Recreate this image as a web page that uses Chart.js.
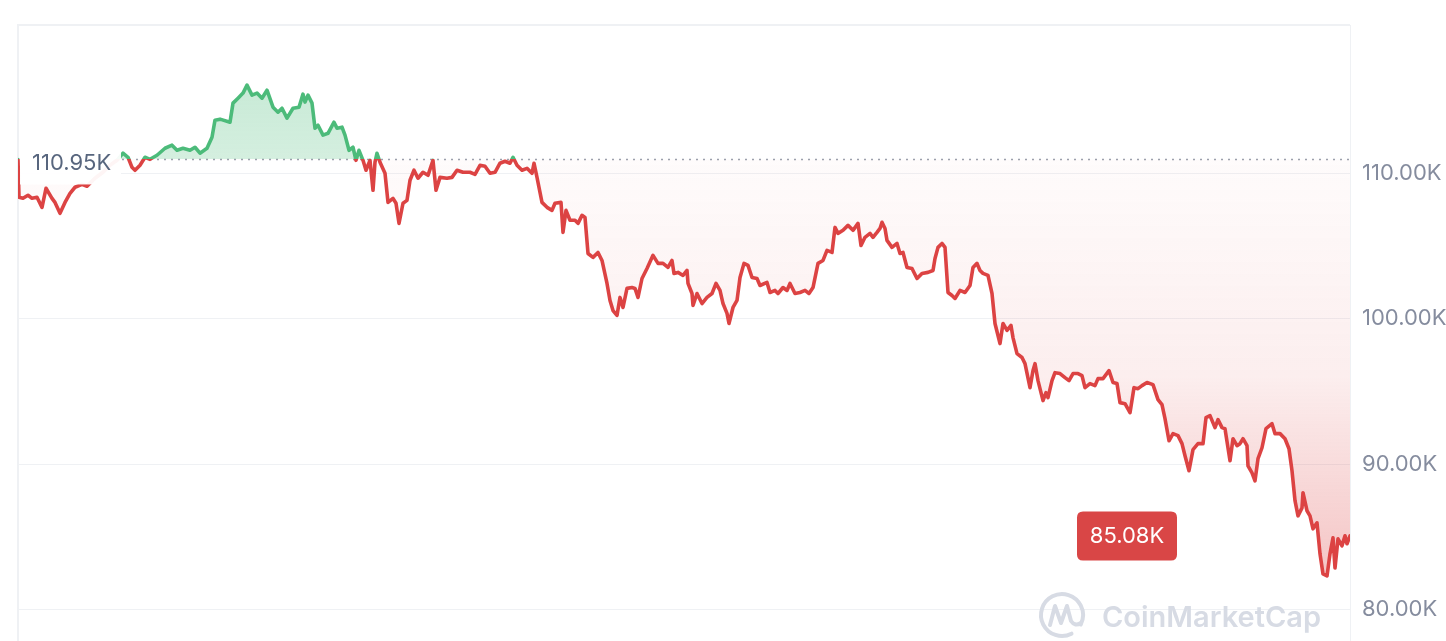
<!DOCTYPE html>
<html>
<head>
<meta charset="utf-8">
<script src="https://cdn.jsdelivr.net/npm/chart.js@4.4.1/dist/chart.umd.min.js"></script>
<style>
    html, body { margin: 0; padding: 0; background: #ffffff; }
    #wrap { width: 1446px; height: 641px; }
</style>
</head>
<body>
<div id="wrap"><canvas id="price-chart" width="1446" height="641"></canvas></div>
<script>
// hours since the start of the window
const hours = [
    0, 0.5, 2.5, 5, 7, 9.5, 12, 14, 17, 18.5,
    21, 23.5, 26, 28.5, 32, 34.5, 38.5, 42.5, 46, 49.5,
    52.5, 55, 57, 58.5, 61, 63.5, 66, 69.5, 73.5, 77,
    79.5, 82.5, 86, 88.5, 91, 94.5, 97, 98.5, 101, 106,
    107.5, 110, 112.5, 114.5, 117, 119.5, 122, 124.5, 127.5, 130,
    132, 134.5, 137.5, 140.5, 142.5, 143.5, 145, 147, 148.5, 150,
    152.5, 155, 158, 159.5, 162, 163.5, 165.5, 167.5, 169, 170.5,
    172.5, 174, 176, 177.5, 178.5, 179.5, 181, 183.5, 185, 187.5,
    189, 190.5, 192.5, 194.5, 196, 198, 200, 202.5, 205, 207.5,
    209, 211, 214.5, 217, 219.5, 222.5, 226, 228.5, 231, 233.5,
    236, 238.5, 241, 243.5, 246, 247.5, 249.5, 252, 254.5, 257,
    258, 259.5, 262, 264.5, 267, 268.5, 271.5, 272.5, 274, 276,
    278.5, 280, 282, 283.5, 285, 287.5, 290, 292, 294.5, 296,
    297.5, 299.5, 301, 302.5, 304.5, 307, 308.5, 310, 312, 314.5,
    317.5, 320, 322.5, 325, 327, 328, 330, 332.5, 334.5, 335,
    337, 337.5, 339.5, 342, 344.5, 347, 349, 351, 352.5, 354.5,
    355.5, 357.5, 359.5, 361, 363, 365, 367, 369.5, 371, 374.5,
    376, 378.5, 380, 382.5, 384.5, 386, 388.5, 391, 393.5, 395.5,
    397.5, 400, 402.5, 404.5, 407, 408.5, 410, 412.5, 415, 417.5,
    420, 421.5, 423.5, 426, 427.5, 429.5, 431, 432, 433.5, 434.5,
    437, 439.5, 441, 442.5, 444.5, 447, 449.5, 452, 455, 457.5,
    458.5, 460, 462, 463.5, 465, 467, 468.5, 471, 473.5, 476,
    477.5, 479.5, 481, 482.5, 485, 487, 488.5, 491, 492.5, 494.5,
    496.5, 497.5, 499.5, 502, 503.5, 506, 507.5, 508.5, 510, 512.5,
    514, 515, 517, 518.5, 521, 523.5, 525.5, 527.5, 530, 532,
    533.5, 536, 538.5, 540, 542.5, 545.5, 547.5, 549.5, 551, 553.5,
    556, 558, 560, 562, 564.5, 567.5, 570, 572, 573.5, 575.5,
    577.5, 580, 582, 583.5, 585.5, 587.5, 590, 592.5, 594, 596,
    598.5, 600, 602, 603.5, 606, 607.5, 609.5, 611, 612.5, 614.5,
    615, 617, 618.5, 620, 622, 624, 627, 628.5, 631, 633.5,
    635.5, 637, 638.5, 640, 642, 642.5, 644.5, 646, 647.5, 649.5,
    651, 652.5, 654.5, 656, 657.5, 658.5, 660, 662, 663.5, 664.5,
    666
];

// price in thousands of USD
const prices = [
    110.95, 108.35, 108.28, 108.49, 108.28, 108.35, 107.66, 108.97, 108.28, 108.00,
    107.25, 108.00, 108.62, 109.04, 109.24, 109.11, 109.66, 110.07, 110.55, 110.89,
    111.38, 111.10, 110.41, 110.21, 110.55, 111.10, 110.96, 111.24, 111.72, 111.93,
    111.58, 111.72, 111.58, 111.79, 111.38, 111.72, 112.48, 113.65, 113.72, 113.51,
    114.82, 115.16, 115.51, 116.06, 115.37, 115.51, 115.16, 115.71, 114.54, 114.20,
    114.47, 113.79, 114.47, 114.54, 115.44, 114.89, 115.37, 114.82, 113.10, 113.30,
    112.62, 112.75, 113.51, 113.10, 113.17, 112.62, 111.58, 111.79, 110.89, 111.58,
    110.89, 110.21, 110.89, 108.83, 110.76, 111.38, 110.76, 110.00, 108.00, 108.28,
    107.94, 106.56, 107.94, 108.14, 109.52, 110.21, 109.66, 110.07, 109.86, 110.89,
    108.83, 109.72, 109.66, 109.72, 110.21, 110.07, 110.07, 109.93, 110.55, 110.48,
    110.00, 110.07, 110.69, 110.83, 110.69, 111.10, 110.55, 110.21, 110.34, 110.00,
    110.69, 109.72, 108.00, 107.66, 107.45, 107.94, 108.00, 105.94, 107.45, 106.77,
    106.77, 106.56, 107.11, 106.97, 104.49, 104.22, 104.56, 104.01, 102.43, 101.26,
    100.57, 100.23, 101.47, 100.78, 102.09, 102.15, 102.09, 101.47, 102.77, 103.46,
    104.36, 103.81, 103.81, 103.53, 104.01, 103.12, 103.19, 102.98, 103.32, 102.43,
    101.74, 100.92, 101.74, 101.05, 101.47, 101.74, 102.43, 101.95, 101.05, 100.37,
    99.68, 100.78, 101.26, 102.84, 103.81, 103.67, 102.84, 102.77, 102.29, 102.50,
    101.81, 101.95, 101.74, 102.15, 101.95, 102.43, 101.74, 101.81, 101.95, 101.74,
    102.15, 103.81, 104.01, 104.70, 104.56, 106.28, 105.87, 106.08, 106.42, 106.08,
    106.56, 105.04, 105.60, 105.87, 105.60, 105.94, 106.21, 106.63, 106.21, 105.39,
    104.91, 105.18, 104.49, 104.56, 103.53, 103.46, 102.77, 103.12, 103.19, 103.32,
    104.15, 104.91, 105.18, 104.91, 101.81, 101.60, 101.40, 101.95, 101.81, 102.29,
    103.53, 103.81, 103.32, 103.12, 102.98, 101.74, 99.68, 98.30, 99.68, 99.20,
    99.54, 98.71, 97.61, 97.34, 96.92, 95.27, 96.44, 96.92, 95.75, 94.38,
    94.93, 94.58, 95.75, 96.30, 96.24, 95.96, 95.75, 96.24, 96.24, 96.10,
    95.27, 95.55, 95.41, 95.89, 95.89, 96.44, 95.62, 95.55, 94.24, 94.17,
    93.55, 95.27, 95.20, 95.41, 95.62, 95.48, 94.45, 94.10, 93.14, 91.62,
    92.11, 91.97, 91.42, 90.59, 89.56, 91.01, 91.42, 91.42, 93.21, 93.35,
    92.52, 93.07, 92.52, 92.45, 90.25, 91.76, 91.28, 91.42, 91.76, 91.28,
    89.90, 89.42, 88.87, 90.39, 91.14, 92.45, 92.79, 92.11, 92.11, 91.76,
    91.07, 89.56, 87.50, 86.46, 87.01, 88.05, 86.81, 86.46, 85.57, 85.98,
    83.85, 82.47, 82.33, 83.85, 84.95, 82.88, 84.88, 84.40, 85.09, 84.54,
    85.08
];

const refPrice = 110.95;
const yTicks = [80, 90, 100, 110];
const yMin = 77.86;
const yMax = 120.19;
const hourMax = 666;

const UP = '#4cbb7a';
const DOWN = '#dc4343';

function fmtK(v) {
    return v.toFixed(2) + 'K';
}

function baseFraction(chart) {
    const a = chart.chartArea;
    const py = chart.scales.y.getPixelForValue(refPrice);
    return Math.min(1, Math.max(0, (py - a.top) / (a.bottom - a.top)));
}

function lineGradient(context) {
    const chart = context.chart;
    if (!chart.chartArea) return DOWN;
    const a = chart.chartArea;
    const f = baseFraction(chart);
    const g = chart.ctx.createLinearGradient(0, a.top, 0, a.bottom);
    g.addColorStop(0, UP);
    g.addColorStop(f, UP);
    g.addColorStop(f, DOWN);
    g.addColorStop(1, DOWN);
    return g;
}

function fillGradient(context) {
    const chart = context.chart;
    if (!chart.chartArea) return 'rgba(220,67,67,0.1)';
    const a = chart.chartArea;
    const f = baseFraction(chart);
    const g = chart.ctx.createLinearGradient(0, a.top, 0, a.bottom);
    g.addColorStop(0, 'rgba(76,187,122,0.36)');
    g.addColorStop(f, 'rgba(76,187,122,0.24)');
    g.addColorStop(f, 'rgba(220,67,67,0.02)');
    g.addColorStop(f + (1 - f) * 0.45, 'rgba(220,67,67,0.09)');
    g.addColorStop(1, 'rgba(220,67,67,0.38)');
    return g;
}

function roundRect(ctx, x, y, w, h, r) {
    ctx.beginPath();
    ctx.moveTo(x + r, y);
    ctx.lineTo(x + w - r, y);
    ctx.quadraticCurveTo(x + w, y, x + w, y + r);
    ctx.lineTo(x + w, y + h - r);
    ctx.quadraticCurveTo(x + w, y + h, x + w - r, y + h);
    ctx.lineTo(x + r, y + h);
    ctx.quadraticCurveTo(x, y + h, x, y + h - r);
    ctx.lineTo(x, y + r);
    ctx.quadraticCurveTo(x, y, x + r, y);
    ctx.closePath();
}

const overlay = {
    id: 'overlay',
    beforeDraw(chart) {
        const { ctx, chartArea: a } = chart;
        ctx.save();
        ctx.strokeStyle = '#eff1f4';
        ctx.lineWidth = 2;
        ctx.beginPath();
        ctx.moveTo(a.left, a.bottom);
        ctx.lineTo(a.left, a.top);
        ctx.lineTo(a.right, a.top);
        ctx.stroke();
        ctx.lineWidth = 1;
        ctx.beginPath();
        ctx.moveTo(a.right + 0.5, a.top);
        ctx.lineTo(a.right + 0.5, a.bottom);
        ctx.stroke();
        ctx.restore();
    },
    beforeDatasetsDraw(chart) {
        const { ctx, chartArea: a } = chart;
        const py = Math.round(chart.scales.y.getPixelForValue(refPrice));
        ctx.save();

        // watermark
        ctx.strokeStyle = '#d7dbe4';
        ctx.fillStyle = '#d7dbe4';
        ctx.lineWidth = 4;
        ctx.lineCap = 'round';
        ctx.lineJoin = 'round';
        const cx = a.right - 288, cy = 615;
        ctx.beginPath();
        ctx.arc(cx, cy, 21, Math.PI * 0.35, Math.PI * 2.15);
        ctx.stroke();
        ctx.beginPath();
        ctx.moveTo(cx - 12, cy + 10);
        ctx.lineTo(cx - 7, cy - 9);
        ctx.lineTo(cx - 1, cy + 8);
        ctx.lineTo(cx + 5, cy - 9);
        ctx.lineTo(cx + 9, cy + 6);
        ctx.quadraticCurveTo(cx + 13, cy + 12, cx + 19, cy + 8);
        ctx.stroke();
        ctx.font = '600 29px Inter';
        ctx.textAlign = 'left';
        ctx.textBaseline = 'alphabetic';
        ctx.fillText('CoinMarketCap', a.right - 248, 627);

        // reference price dotted line
        ctx.strokeStyle = '#9ba1ad';
        ctx.lineWidth = 1.6;
        ctx.lineCap = 'butt';
        ctx.setLineDash([2, 5]);
        ctx.beginPath();
        ctx.moveTo(a.left + 104, py + 0.5);
        ctx.lineTo(a.right, py + 0.5);
        ctx.stroke();
        ctx.restore();
    },
    afterDatasetsDraw(chart) {
        const { ctx, chartArea: a } = chart;
        const y = chart.scales.y;
        const py = y.getPixelForValue(refPrice);
        ctx.save();

        // reference price label
        ctx.fillStyle = 'rgba(255,255,255,0.95)';
        ctx.fillRect(a.left + 2, py - 16, 101, 41);
        ctx.fillStyle = '#58667e';
        ctx.font = '22px Inter';
        ctx.textAlign = 'left';
        ctx.textBaseline = 'middle';
        ctx.fillText(fmtK(refPrice), a.left + 14, py + 4);

        // last price badge
        const last = prices[prices.length - 1];
        const ly = y.getPixelForValue(last);
        const bw = 100, bh = 49;
        const bx = a.right - 173 - bw;
        ctx.fillStyle = '#d94646';
        roundRect(ctx, bx, ly - bh / 2, bw, bh, 6);
        ctx.fill();
        ctx.fillStyle = '#ffffff';
        ctx.textAlign = 'center';
        ctx.fillText(fmtK(last), bx + bw / 2, ly);
        ctx.restore();
    }
};

const ctx = document.getElementById('price-chart').getContext('2d');
const chart = new Chart(ctx, {
    type: 'line',
    data: {
        datasets: [{
            label: 'Price',
            data: hours.map((h, i) => ({ x: h, y: prices[i] })),
            borderColor: lineGradient,
            backgroundColor: fillGradient,
            borderWidth: 3.6,
            borderJoinStyle: 'round',
            borderCapStyle: 'round',
            pointRadius: 0,
            tension: 0,
            fill: { target: { value: refPrice } }
        }]
    },
    options: {
        responsive: false,
        animation: false,
        events: [],
        layout: { padding: { left: 18, top: 25, right: 0, bottom: 0 } },
        plugins: {
            legend: { display: false },
            tooltip: { enabled: false }
        },
        scales: {
            x: {
                type: 'linear',
                min: 0,
                max: hourMax,
                display: false
            },
            y: {
                position: 'right',
                min: yMin,
                max: yMax,
                afterBuildTicks: scale => {
                    scale.ticks = yTicks.map(v => ({ value: v }));
                },
                afterFit: scale => {
                    scale.width = 96;
                    scale.paddingTop = 0;
                    scale.paddingBottom = 0;
                },
                border: { display: false },
                grid: {
                    color: '#eff1f4',
                    lineWidth: 1,
                    drawTicks: false
                },
                ticks: {
                    padding: 12,
                    color: '#858c9e',
                    font: { family: 'Inter', size: 22 },
                    callback: v => fmtK(v)
                }
            }
        }
    },
    plugins: [overlay]
});
</script>
</body>
</html>
